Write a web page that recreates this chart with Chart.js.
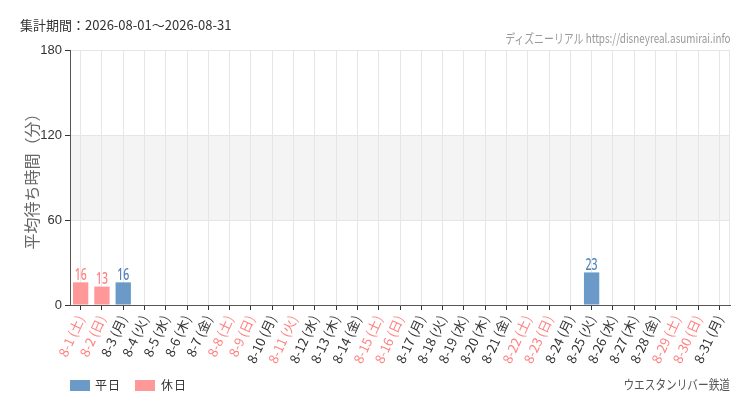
<!DOCTYPE html>
<html><head><meta charset="utf-8">
<script src="https://cdn.jsdelivr.net/npm/chart.js@4"></script>
<style>
html,body{margin:0;padding:0;background:#fff;}
#wrap{position:relative;width:750px;height:410px;font-family:"Noto Sans CJK JP","Noto Sans",sans-serif;}
canvas{position:absolute;left:0;top:0;}
.t{position:absolute;white-space:nowrap;line-height:1;}
#title{left:20px;top:18px;font-size:13px;color:#333;}
#wm{right:19px;top:31px;font-size:13px;color:#999;font-family:"Noto Sans CJK JP",sans-serif;transform:scaleX(0.76);transform-origin:right center;}
#foot{right:20px;top:377px;font-size:13px;color:#555;font-family:"Noto Sans CJK JP",sans-serif;transform:scaleX(0.82);transform-origin:right center;}
.lg{position:absolute;top:379px;font-size:12px;line-height:1;color:#333;letter-spacing:1px;}
.box{position:absolute;top:380px;width:20px;height:11px;}
</style></head><body>
<div id="wrap">
<canvas id="c" width="750" height="410"></canvas>
<div class="t" id="title">集計期間：2026-08-01～2026-08-31</div>
<div class="t" id="wm">ディズニーリアル https://disneyreal.asumirai.info</div>
<div class="box" style="left:70px;background:#6b9ac8"></div><div class="lg" style="left:95px">平日</div>
<div class="box" style="left:135px;background:#ff9999"></div><div class="lg" style="left:161px">休日</div>
<div class="t" id="foot">ウエスタンリバー鉄道</div>
</div>
<script>
const categories = ["8-1 (土)","8-2 (日)","8-3 (月)","8-4 (火)","8-5 (水)","8-6 (木)","8-7 (金)","8-8 (土)","8-9 (日)","8-10 (月)","8-11 (火)","8-12 (水)","8-13 (木)","8-14 (金)","8-15 (土)","8-16 (日)","8-17 (月)","8-18 (火)","8-19 (水)","8-20 (木)","8-21 (金)","8-22 (土)","8-23 (日)","8-24 (月)","8-25 (火)","8-26 (水)","8-27 (木)","8-28 (金)","8-29 (土)","8-30 (日)","8-31 (月)"];
const holidayDays = ["8-1","8-2","8-8","8-9","8-11","8-15","8-16","8-22","8-23","8-29","8-30"];
const weekdayValues = [null,null,16,null,null,null,null,null,null,null,null,null,null,null,null,null,null,null,null,null,null,null,null,null,23,null,null,null,null,null,null];
const holidayValues = [16,13,null,null,null,null,null,null,null,null,null,null,null,null,null,null,null,null,null,null,null,null,null,null,null,null,null,null,null,null,null];
const yTicks = [0,60,120,180];

const isHoliday = i => holidayDays.includes(categories[i].split(" ")[0]);

const bandPlugin = {
  id:'band',
  beforeDraw(chart){
    const {ctx, chartArea:a, scales:{y}} = chart;
    ctx.save();
    ctx.fillStyle = '#f4f4f4';
    const t = y.getPixelForValue(120), b = y.getPixelForValue(60);
    ctx.fillRect(a.left, t, a.right-a.left, b-t);
    ctx.restore();
  },
  afterDatasetsDraw(chart){
    const {ctx, chartArea:a} = chart;
    ctx.save();
    ctx.strokeStyle = '#e6e6e6'; ctx.lineWidth = 1;
    ctx.beginPath(); ctx.moveTo(a.right-0.5, a.top); ctx.lineTo(a.right-0.5, a.bottom); ctx.stroke();
    ctx.font = '500 15px "Noto Sans", sans-serif';
    ctx.textAlign = 'center'; ctx.textBaseline = 'bottom';
    const colors = ['#4f82b8','#ff7f7f'];
    chart.data.datasets.forEach((ds, di) => {
      const meta = chart.getDatasetMeta(di);
      meta.data.forEach((el, i) => {
        const v = ds.data[i];
        if (v == null) return;
        ctx.save();
        ctx.fillStyle = colors[di];
        ctx.translate(el.x, el.y);
        ctx.scale(0.7, 1.05);
        ctx.fillText(String(v), 0, 1);
        ctx.restore();
      });
    });
    ctx.restore();
  }
};

new Chart(document.getElementById('c'), {
  type:'bar',
  data:{
    labels: categories,
    datasets:[
      {label:'平日', data: weekdayValues, backgroundColor:'#6b9ac8'},
      {label:'休日', data: holidayValues, backgroundColor:'#ff9999'}
    ]
  },
  options:{
    responsive:false, animation:false,
    devicePixelRatio:1,
    layout:{padding:{left:22,right:20,top:50,bottom:0}},
    plugins:{legend:{display:false}, tooltip:{enabled:false}},
    scales:{
      x:{
        stacked:true,
        grid:{offset:false, color:'#e6e6e6', tickColor:'#333', tickLength:5, drawOnChartArea:true},
        border:{color:'#555'},
        ticks:{
          autoSkip:false, minRotation:65, maxRotation:65, padding:3,
          font:{size:13, family:'"Noto Sans CJK JP", sans-serif'},
          color: ctx => isHoliday(ctx.index) ? '#ff8080' : '#333'
        },
        afterFit(s){ s.height = 105; }
      },
      y:{
        stacked:true, min:0, max:180,
        afterBuildTicks(s){ s.ticks = yTicks.map(v=>({value:v})); },
        grid:{color:'#e6e6e6', tickColor:'#333', tickLength:5},
        border:{color:'#555'},
        ticks:{font:{size:13, family:'"Liberation Sans", sans-serif'}, color:'#333', padding:3},
        title:{display:true, text:'平均待ち時間（分）', color:'#666', font:{size:16, family:'"Noto Sans CJK JP", sans-serif'}, padding:{top:0,bottom:0}},
        afterFit(s){ s.width = 48; }
      }
    }
  },
  plugins:[bandPlugin]
});
</script>
</body></html>
